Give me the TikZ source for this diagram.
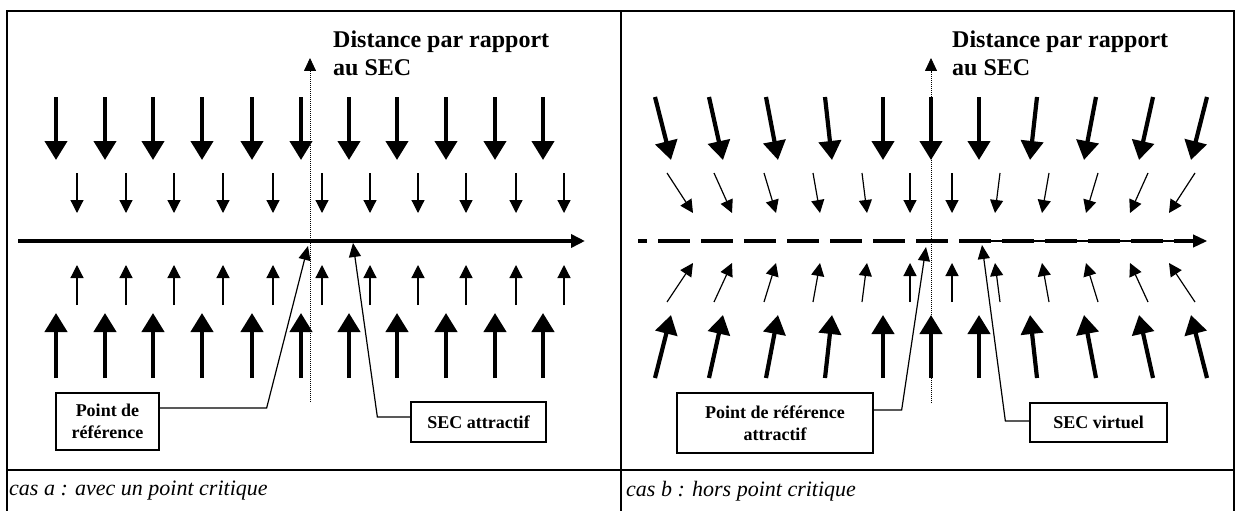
\documentclass[tikz,border=0pt]{standalone}
\usepackage{fontspec}
\setmainfont{Liberation Serif}
\usetikzlibrary{arrows.meta}
\begin{document}
\begin{tikzpicture}[x=1pt,y=-1pt,
  frame/.style={line width=2pt},
  bigarr/.style={line width=4.2pt,-{Triangle[length=19pt,width=22pt]}},
  smallarr/.style={line width=1.2pt,-{Triangle[length=13pt,width=13pt]}},
  axisarr/.style={line width=4pt,-{Triangle[length=14pt,width=13pt]}},
  thinaxis/.style={line width=1.2pt,-{Triangle[length=14pt,width=13pt]}},
  vaxis/.style={line width=0.8pt,dash pattern=on 1pt off 1pt,-{Triangle[length=13pt,width=12pt]}},
  conn/.style={line width=1.2pt,-{Triangle[length=14pt,width=12pt]}},
  lbox/.style={draw,line width=1.3pt,align=center,font=\bfseries\fontsize{18}{22}\selectfont,inner sep=0pt},
  headtxt/.style={align=left,font=\bfseries\fontsize{24}{28}\selectfont,inner sep=0pt,anchor=north west},
  captxt/.style={font=\itshape\fontsize{22}{26}\selectfont,inner sep=0pt,anchor=west}
]
\useasboundingbox (0,0) rectangle (1239,511);
% frame
\draw[frame] (7,530) -- (7,11) -- (1234,11) -- (1234,530);
\draw[frame] (621,11) -- (621,530);
\draw[frame] (7,470) -- (1234,470);

% ---------- case a ----------
\foreach \x in {56,105,153,202,252,301,349,397,446,495,543} {
  \draw[bigarr] (\x,97) -- (\x,160);
  \draw[bigarr] (\x,378) -- (\x,313);
}
\foreach \x in {77,126,174,223,273,322,370,418,466,516,564} {
  \draw[smallarr] (\x,173) -- (\x,213);
  \draw[smallarr] (\x,305) -- (\x,265);
}
\draw[axisarr] (18,241) -- (585,241);
\draw[vaxis] (310,402) -- (310,58);
\node[headtxt] (headA) at (333,31) {Distance par rapport\\au SEC};

\coordinate (tipA1) at (308,246);
\coordinate (tipA2) at (353,243);
\node[lbox,minimum width=103pt,minimum height=57pt] (prA) at (107.5,421.5) {Point de\\référence};
\node[lbox,minimum width=135pt,minimum height=40pt] (secA) at (478.5,422) {SEC attractif};
\draw[conn] ([yshift=13.5pt]prA.east) -- ++(107,0) -- (tipA1);
\draw[conn] ([yshift=5pt]secA.west) -- ++(-33,0) -- (tipA2);

\node[captxt] (capA) at (9,491) {cas a : avec un point critique};

% ---------- case b ----------
\foreach \s/\t in {-276/-260,-222/-208,-165/-153,-106/-99,-48/-48,0/0,48/48,106/99,165/153,222/208,276/260} {
  \draw[bigarr] ({931+(\s)},97) -- ({931+(\t)},160);
  \draw[bigarr] ({931+(\s)},378) -- ({931+(\t)},315);
}
\foreach \s/\t in {-264/-238,-217/-199,-167/-155,-118/-111,-69/-64,-21/-21,21/21,69/64,118/111,167/155,217/199,264/238} {
  \draw[smallarr] ({931+(\s)},173) -- ({931+(\t)},213);
  \draw[smallarr] ({931+(\s)},302) -- ({931+(\t)},263);
}
\draw[line width=4pt,dash pattern=on 32pt off 11pt,dash phase=23pt] (638,241) -- (1195,241);
\draw[thinaxis] (988,241) -- (1207,241);
\draw[vaxis] (931,403) -- (931,58);
\node[headtxt] (headB) at (952,31) {Distance par rapport\\au SEC};

\coordinate (tipB1) at (926,247);
\coordinate (tipB2) at (982,245);
\node[lbox,minimum width=196pt,minimum height=60pt] (prB) at (775,423) {Point de référence\\attractif};
\node[lbox,minimum width=137pt,minimum height=39pt] (secB) at (1098.5,422.5) {SEC virtuel};
\draw[conn] ([yshift=13pt]prB.east) -- ++(28,0) -- (tipB1);
\draw[conn] ([yshift=1.5pt]secB.west) -- ++(-24,0) -- (tipB2);

\node[captxt] (capB) at (626,491) {cas b : hors point critique};
\end{tikzpicture}
\end{document}
